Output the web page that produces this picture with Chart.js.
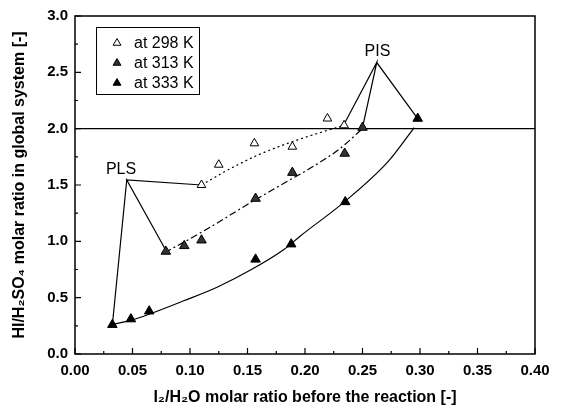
<!DOCTYPE html>
<html>
<head>
<meta charset="utf-8">
<script src="https://cdn.jsdelivr.net/npm/chart.js@4"></script>
<style>
  html, body { margin: 0; padding: 0; background: #fff; }
  #wrap { width: 562px; height: 412px; }
</style>
</head>
<body>
<div id="wrap"><canvas id="plot" width="562" height="412"></canvas></div>
<script>
// measured points
const x298 = [0.110, 0.125, 0.156, 0.189, 0.2195, 0.234];
const y298 = [1.50, 1.68, 1.87, 1.84, 2.09, 2.03];
const x313 = [0.079, 0.095, 0.110, 0.157, 0.189, 0.2345, 0.250];
const y313 = [0.91, 0.96, 1.01, 1.38, 1.61, 1.78, 2.01];
const x333 = [0.0325, 0.0486, 0.0645, 0.157, 0.188, 0.235, 0.298];
const y333 = [0.26, 0.31, 0.38, 0.84, 0.975, 1.35, 2.09];

// trend curves
const fitX298 = [0.110, 0.135, 0.160, 0.185, 0.210, 0.234];
const fitY298 = [1.50, 1.645, 1.77, 1.87, 1.955, 2.03];
const fitX313 = [0.078, 0.110, 0.157, 0.179, 0.208, 0.230, 0.250];
const fitY313 = [0.90, 1.08, 1.37, 1.50, 1.67, 1.82, 2.00];
const fitX333 = [0.031, 0.049, 0.065, 0.094, 0.124, 0.153, 0.182, 0.196, 0.234, 0.272, 0.295];
const fitY333 = [0.26, 0.30, 0.355, 0.47, 0.595, 0.747, 0.93, 1.048, 1.348, 1.705, 2.01];

// PLS / PIS construction lines
const plsX = [0.110, 0.045, 0.0785, 0.045, 0.0325];
const plsY = [1.50, 1.545, 0.93, 1.545, 0.26];
const pisX = [0.234, 0.2624, 0.250, 0.2624, 0.298];
const pisY = [2.04, 2.587, 2.01, 2.587, 2.09];

const refX = [0, 0.40];
const refY = [2.0, 2.0];

const seriesLabels = ['at 298 K', 'at 313 K', 'at 333 K'];
const notes = [
    { text: 'PLS', x: 0.040, y: 1.64 },
    { text: 'PIS', x: 0.263, y: 2.68 }
];

function pts(xs, ys) {
    return xs.map((x, i) => ({ x: x, y: ys[i] }));
}

function lineSet(xs, ys, dash, smooth) {
    return {
        data: pts(xs, ys),
        showLine: true,
        borderColor: '#000',
        borderWidth: 1.2,
        borderDash: dash,
        pointRadius: 0,
        fill: false,
        tension: smooth ? 0.4 : 0,
        cubicInterpolationMode: smooth ? 'monotone' : 'default'
    };
}

const FONT = "'Liberation Sans', Arial, sans-serif";

// inward ticks + box frame + legend + PLS/PIS labels
const decor = {
    id: 'decor',
    afterDraw(c) {
        const ctx = c.ctx;
        const a = c.chartArea;
        const xs = c.scales.x, ys = c.scales.y;
        ctx.save();
        ctx.strokeStyle = '#000';
        ctx.lineWidth = 1.5;
        ctx.strokeRect(a.left, a.top, a.right - a.left, a.bottom - a.top);
        ctx.lineWidth = 1.2;
        ctx.beginPath();
        for (let i = 0; i <= 16; i++) {
            const px = xs.getPixelForValue(i * 0.025);
            const len = i % 2 === 0 ? 6 : 3;
            ctx.moveTo(px, a.bottom);
            ctx.lineTo(px, a.bottom - len);
        }
        for (let i = 0; i <= 12; i++) {
            const py = ys.getPixelForValue(i * 0.25);
            const len = i % 2 === 0 ? 6 : 3;
            ctx.moveTo(a.left, py);
            ctx.lineTo(a.left + len, py);
        }
        ctx.stroke();

        // notes
        ctx.fillStyle = '#000';
        ctx.font = '16px ' + FONT;
        ctx.textAlign = 'center';
        ctx.textBaseline = 'middle';
        notes.forEach(n => {
            ctx.fillText(n.text, xs.getPixelForValue(n.x), ys.getPixelForValue(n.y));
        });

        // legend box
        const bx = 96, by = 27, bw = 103, bh = 67;
        ctx.lineWidth = 1;
        ctx.strokeRect(bx + 0.5, by + 0.5, bw, bh);
        const rows = [43, 63, 83];
        c.data.datasets.slice(0, 3).forEach((ds, i) => {
            const cx = 117, cy = rows[i], r = 4.5;
            ctx.beginPath();
            ctx.moveTo(cx, cy - r);
            ctx.lineTo(cx + r * 0.87, cy + r * 0.5);
            ctx.lineTo(cx - r * 0.87, cy + r * 0.5);
            ctx.closePath();
            ctx.fillStyle = ds.pointBackgroundColor;
            ctx.fill();
            ctx.strokeStyle = '#000';
            ctx.lineWidth = 1;
            ctx.stroke();
            ctx.fillStyle = '#000';
            ctx.textAlign = 'left';
            ctx.fillText(seriesLabels[i], 134, cy + 1);
        });
        ctx.restore();
    }
};

const ctx = document.getElementById('plot').getContext('2d');
const chart = new Chart(ctx, {
    type: 'scatter',
    data: {
        datasets: [
            {
                label: seriesLabels[0],
                data: pts(x298, y298),
                pointStyle: 'triangle',
                pointRadius: 5,
                pointBackgroundColor: '#fff',
                pointBorderColor: '#000',
                pointBorderWidth: 1
            },
            {
                label: seriesLabels[1],
                data: pts(x313, y313),
                pointStyle: 'triangle',
                pointRadius: 5.5,
                pointBackgroundColor: '#333',
                pointBorderColor: '#000',
                pointBorderWidth: 1
            },
            {
                label: seriesLabels[2],
                data: pts(x333, y333),
                pointStyle: 'triangle',
                pointRadius: 5.5,
                pointBackgroundColor: '#000',
                pointBorderColor: '#000',
                pointBorderWidth: 1
            },
            lineSet(fitX298, fitY298, [2, 3], true),
            lineSet(fitX313, fitY313, [7, 3, 2, 3], true),
            lineSet(fitX333, fitY333, [], true),
            lineSet(plsX, plsY, [], false),
            lineSet(pisX, pisY, [], false),
            lineSet(refX, refY, [], false)
        ]
    },
    options: {
        responsive: false,
        animation: false,
        layout: { padding: { left: 0, top: 12, right: 27, bottom: 0 } },
        plugins: {
            legend: { display: false },
            tooltip: { enabled: false }
        },
        scales: {
            x: {
                type: 'linear',
                min: 0,
                max: 0.40,
                afterFit: s => { s.height = 58; },
                grid: { display: false, drawTicks: false },
                border: { display: false },
                ticks: {
                    stepSize: 0.05,
                    padding: 8,
                    color: '#000',
                    font: { family: FONT, size: 15, weight: 'bold' },
                    callback: v => v.toFixed(2)
                },
                title: {
                    display: true,
                    text: 'I\u2082/H\u2082O molar ratio before the reaction [-]',
                    color: '#000',
                    font: { family: FONT, size: 16, weight: 'bold' },
                    padding: { top: 0, bottom: 5 }
                }
            },
            y: {
                type: 'linear',
                min: 0,
                max: 3.0,
                afterFit: s => { s.width = 75; },
                grid: { display: false, drawTicks: false },
                border: { display: false },
                ticks: {
                    stepSize: 0.5,
                    padding: 7,
                    color: '#000',
                    font: { family: FONT, size: 15, weight: 'bold' },
                    callback: v => v.toFixed(1)
                },
                title: {
                    display: true,
                    text: 'HI/H\u2082SO\u2084 molar ratio in global system [-]',
                    color: '#000',
                    font: { family: FONT, size: 16, weight: 'bold' },
                    padding: { top: 10, bottom: 0 }
                }
            }
        }
    },
    plugins: [decor]
});
</script>
</body>
</html>
